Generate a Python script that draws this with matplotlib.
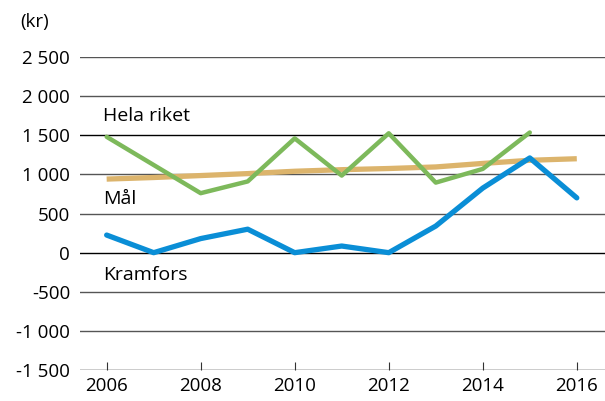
import matplotlib
matplotlib.use("Agg")
import matplotlib.pyplot as plt
from matplotlib.ticker import FuncFormatter

plt.rcParams["font.family"] = ["Open Sans", "DejaVu Sans"]

years = [2006, 2007, 2008, 2009, 2010, 2011, 2012, 2013, 2014, 2015, 2016]
hela_riket = [1480, 1120, 760, 910, 1460, 985, 1525, 895, 1070, 1535, None]
mal = [940, 960, 985, 1010, 1040, 1060, 1075, 1095, 1140, 1180, 1200]
kramfors = [225, 0, 180, 300, 0, 85, 0, 340, 825, 1210, 700]

y_ticks = [-1500, -1000, -500, 0, 500, 1000, 1500, 2000, 2500]
x_ticks = [2006, 2008, 2010, 2012, 2014, 2016]

BLUE = "#0a8ed6"
GREEN = "#7db95b"
TAN = "#dcb46c"

fig = plt.figure(figsize=(6.05, 4.01), dpi=100)
ax = fig.add_axes([0.132, 0.077, 0.868, 0.781])

for v in y_ticks:
    col = "#000000" if v in (0, 1500, -1500) else "#555555"
    ax.axhline(v, color=col, linewidth=1.0, zorder=0)

ax.plot(years, mal, color=TAN, linewidth=3.8, solid_capstyle="butt", zorder=2)
gx = [x for x, v in zip(years, hela_riket) if v is not None]
gy = [v for v in hela_riket if v is not None]
ax.plot(gx, gy, color=GREEN, linewidth=3.2, solid_capstyle="round", zorder=3)
ax.plot(years, kramfors, color=BLUE, linewidth=3.8, solid_capstyle="round", zorder=4)

ax.set_xlim(2005.43, 2016.6)
ax.set_ylim(-1500, 2500)
ax.set_yticks(y_ticks)
ax.set_xticks(x_ticks)
ax.yaxis.set_major_formatter(FuncFormatter(lambda v, p: f"{int(v):,}".replace(",", " ")))
ax.tick_params(axis="y", length=0, labelsize=13.5, pad=7)
ax.tick_params(axis="x", direction="in", length=6, width=0.8, color="#333333",
               labelsize=13.5, pad=5)
for s in ax.spines.values():
    s.set_visible(False)

ax.text(2005.93, 1750, "Hela riket", fontsize=14, ha="left", va="center")
ax.text(2005.93, 690, "Mål", fontsize=14, ha="left", va="center")
ax.text(2005.93, -280, "Kramfors", fontsize=14, ha="left", va="center")
fig.text(0.033, 0.945, "(kr)", fontsize=13.5, ha="left", va="center")

fig.savefig("out.png", dpi=100)
